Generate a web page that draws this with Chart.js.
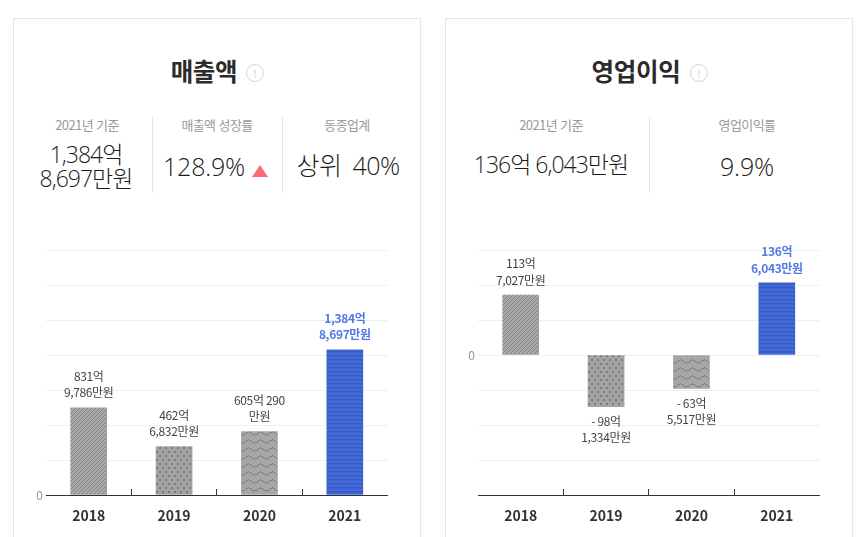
<!DOCTYPE html>
<html lang="ko"><head><meta charset="utf-8">
<script src="https://cdn.jsdelivr.net/npm/chart.js@4"></script>
<style>
html,body{margin:0;padding:0;background:#fff;width:860px;height:537px;overflow:hidden;font-family:"Noto Sans CJK KR","Noto Sans",sans-serif;color:#333}
.card{position:absolute;top:18px;width:406px;height:600px;border:1px solid #e6e6ee;box-sizing:content-box}
.t{position:absolute;white-space:nowrap;transform:translate(-50%,-50%);text-align:center}
.title{font-size:24.5px;font-weight:700;color:#2b2b2b;letter-spacing:-.3px}
.sub{font-size:13px;color:#999;letter-spacing:-.6px}
.val{font-family:"Open Sans","Noto Sans CJK KR",sans-serif;font-size:23px;font-weight:300;color:#1c1c1c;letter-spacing:-1px;line-height:24px}
.sep{position:absolute;top:117px;height:76px;width:1px;background:#e4e4e8}
.ic{position:absolute;width:16px;height:16px;border:1px solid #d4d4de;border-radius:50%;color:#cfcfd8;font-size:11px;line-height:16px;text-align:center;top:64px}
.tri{position:absolute;left:252px;top:165px;width:0;height:0;border-left:8px solid transparent;border-right:8px solid transparent;border-bottom:12px solid #ff6b75}
canvas{position:absolute}
#w1,#w2{position:absolute;top:230px;width:405px;height:307px}
#w1{left:14px}#w2{left:446px}
</style></head><body>
<div class="card" style="left:13px"></div>
<div class="card" style="left:445px"></div>
<div class="t title" style="left:204px;top:70px">매출액</div><div class="ic" style="left:246px">!</div>
<div class="t sub" style="left:87px;top:124px">2021년 기준</div>
<div class="t sub" style="left:217px;top:124px">매출액 성장률</div>
<div class="t sub" style="left:347px;top:124px">동종업계</div>
<div class="sep" style="left:152px"></div><div class="sep" style="left:282px"></div>
<div class="t val" style="left:86px;top:166px">1,384억<br>8,697만원</div>
<div class="t val" style="left:204px;top:166px;font-size:25px;letter-spacing:-.2px">128.9%</div><div class="tri"></div>
<div class="t val" style="left:348px;top:165px;font-size:25px;letter-spacing:-.5px;word-spacing:5px">상위 40%</div>
<div class="t title" style="left:636px;top:70px">영업이익</div><div class="ic" style="left:690px">!</div>
<div class="t sub" style="left:551px;top:124px">2021년 기준</div>
<div class="t sub" style="left:747px;top:124px">영업이익률</div>
<div class="sep" style="left:649px"></div>
<div class="t val" style="left:551px;top:164px">136억 6,043만원</div>
<div class="t val" style="left:747px;top:166px;font-size:25px;letter-spacing:-.2px">9.9%</div>
<div id="w1"><canvas id="c1"></canvas></div>
<div id="w2"><canvas id="c2"></canvas></div>
<script>
const years = ['2018','2019','2020','2021'];
const revenue = [831.9786, 462.6832, 605.029, 1384.8697];
const profit = [113.7027, -98.1334, -63.5517, 136.6043];
const revenueLabels = [['831억','9,786만원'],['462억','6,832만원'],['605억 290','만원'],['1,384억','8,697만원']];
const profitLabels = [['113억','7,027만원'],['- 98억','1,334만원'],['- 63억','5,517만원'],['136억','6,043만원']];
const revenueAxis = {min:0, max:2338, step:334};
const profitAxis = {min:-265.4, max:199.05, step:66.35};

function mk(w,h,base,draw){const c=document.createElement('canvas');c.width=w;c.height=h;const x=c.getContext('2d');x.fillStyle=base;x.fillRect(0,0,w,h);draw(x);return x.createPattern(c,'repeat');}
const diag=mk(4,4,'#a8a8a8',x=>{x.fillStyle='#848484';for(let i=0;i<4;i++){x.fillRect(i,3-i,1,1);}});
const dots=mk(6,8,'#a3a3a3',x=>{x.fillStyle='#7a7a7a';[[1,1],[4,5]].forEach(p=>x.fillRect(p[0],p[1],2,2));});
const zig=mk(12,8,'#a6a6a6',x=>{x.fillStyle='#7e7e7e';for(let i=0;i<12;i++){const y=Math.round(Math.abs(i-6)*4/6);x.fillRect(i,y+1,1,1);}});
const stripe=mk(4,4,'#4169e1',x=>{x.fillStyle='#3a5ab4';x.fillRect(0,1,4,1);x.fillStyle='#3d62cc';x.fillRect(0,2,4,1);});
const fills=[diag,dots,zig,stripe];

const labelPlugin={id:'vlabels',afterDatasetsDraw(ch,a,o){
  const c=ch.ctx,m=ch.getDatasetMeta(0);c.save();c.textAlign='center';c.textBaseline='middle';
  if('letterSpacing' in c)c.letterSpacing='-0.35px';
  m.data.forEach((b,i)=>{const L=o.lines[i],neg=ch.data.datasets[0].data[i]<0,hi=i===3;
    c.font=(hi?'700 ':'400 ')+'12px "Noto Sans CJK KR","Noto Sans",sans-serif';c.fillStyle=hi?'#5478e6':'#444';
    L.forEach((t,j)=>{const y=neg?b.y+15+j*16:b.y-15-(L.length-1-j)*16.5;c.fillText(t,b.x,y);});});
  c.restore();}};

function build(id,data,axis,lines){
  return new Chart(document.getElementById(id),{type:'bar',
    data:{labels:years,datasets:[{data,backgroundColor:fills,borderWidth:0,barThickness:36}]},
    plugins:[labelPlugin],
    options:{responsive:true,maintainAspectRatio:false,animation:false,events:[],
      layout:{padding:{top:20,right:31.5,left:0,bottom:0}},
      plugins:{legend:{display:false},tooltip:{enabled:false},vlabels:{lines}},
      scales:{
        x:{offset:true,
          grid:{drawOnChartArea:false,offset:true,tickLength:-6,tickWidth:1,
            tickColor:c=>(c.index>=1&&c.index<=3)?'#333':'rgba(0,0,0,0)'},
          border:{display:true,color:'#333',width:1},
          ticks:{color:'#333',padding:18,maxRotation:0,font:{size:14,weight:'700',family:'"Noto Sans CJK KR","Noto Sans",sans-serif'}},
          afterFit(s){s.height=42;}},
        y:{min:axis.min,max:axis.max,
          grid:{color:'#efefef',drawTicks:false},
          border:{display:false},
          ticks:{stepSize:axis.step,padding:3,color:'#999',font:{size:12,family:'"Noto Sans CJK KR","Noto Sans",sans-serif'},
            callback:v=>Math.abs(v)<1e-6?'0':''},
          afterBuildTicks(s){const t=[];for(let i=0;;i++){const v=axis.min+i*axis.step;if(v>axis.max+1)break;t.push({value:Math.abs(v)<1e-6?0:v});}
            if(axis.min<0){const k=Math.round(-axis.min/axis.step);t[k].value=0;}s.ticks=t;},
          afterFit(s){s.width=32;}}
      }}});
}
build('c1',revenue,revenueAxis,revenueLabels);
build('c2',profit,profitAxis,profitLabels);
</script></body></html>
